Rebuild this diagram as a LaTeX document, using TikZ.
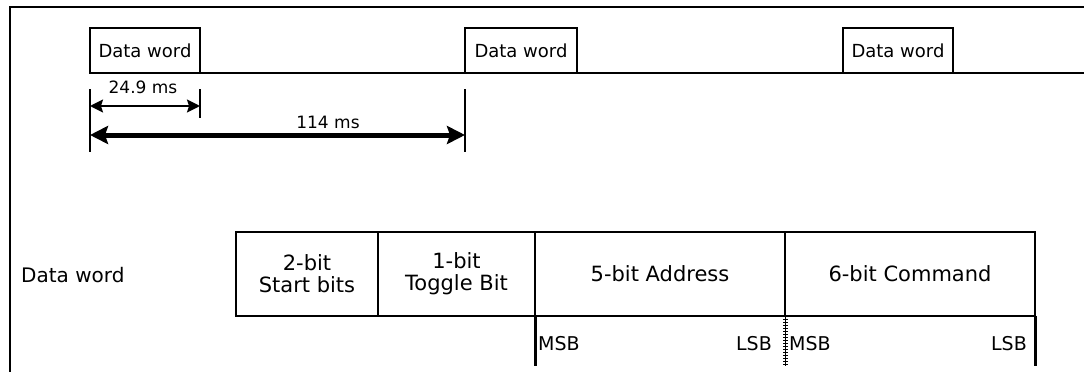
\documentclass[tikz,border=0pt]{standalone}
\usepackage{fontspec}
\setmainfont{DejaVu Sans}
\usepackage{tikz}
\usetikzlibrary{positioning,arrows.meta}
\tikzset{
     arrow/.style={line width=2pt, arrows={Stealth[length=13pt,width=13pt,inset=2pt]-Stealth[length=13pt,width=13pt,inset=2pt]}},
     bigarrow/.style={line width=5pt, arrows={Stealth[length=18pt,width=18pt,inset=3pt]-Stealth[length=18pt,width=18pt,inset=3pt]}},
     pulse/.style={draw, line width=1.5pt, minimum height=45pt, inner sep=0pt, outer sep=0pt, font=\fontsize{18}{20}\selectfont},
     field/.style={draw, line width=1.5pt, minimum height=84pt, inner sep=0pt, outer sep=0pt, align=center, font=\fontsize{21}{22}\selectfont},
     dimlabel/.style={inner sep=0pt, font=\fontsize{17}{18}\selectfont},
     bitlabel/.style={inner sep=0pt, font=\fontsize{19}{20}\selectfont},
     marker/.style={line width=1.5pt}
     }

\begin{document}
\begin{tikzpicture}[x=1pt,y=-1pt]
                    \useasboundingbox (0,0) rectangle (1084,372);
                    % Frame
                    \draw[line width=2.5pt] (10,372) -- (10,7) -- (1084,7);
                    % Place nodes
                    \node[pulse, minimum width=110pt] (w1) at (145,50.5) {Data word};
                    \node[pulse, minimum width=112pt, right=265pt of w1] (w2) {Data word};
                    \node[pulse, minimum width=110pt, right=266pt of w2] (w3) {Data word};
                    \coordinate (lineend) at (1084,73);
                    \draw[line width=1.5pt] (w1.south west) -- (lineend);
                    % Timing marks
                    \coordinate (m1a) at (w1.south west |- 0,89);
                    \coordinate (m1b) at (w1.south west |- 0,152);
                    \coordinate (m2a) at (w1.south east |- 0,89);
                    \coordinate (m2b) at (w1.south east |- 0,118);
                    \coordinate (m3a) at (w2.south west |- 0,89);
                    \coordinate (m3b) at (w2.south west |- 0,152);
                    \draw[marker] (m1a) -- (m1b);
                    \draw[marker] (m2a) -- (m2b);
                    \draw[marker] (m3a) -- (m3b);
                    \coordinate (a1) at (w1.south west |- 0,106);
                    \coordinate (a2) at (w1.south east |- 0,106);
                    \coordinate (b1) at (w1.south west |- 0,135);
                    \coordinate (b2) at (w2.south west |- 0,135);
                    % Draw edges
                    \draw[arrow] (a1) -- (a2);
                    \draw[bigarrow] (b1) -- (b2);
                    \node[dimlabel] (t1) at (143,87) {24.9 ms};
                    \node[dimlabel] (t2) at (328,122) {114 ms};
                    % Data word fields
                    \node[anchor=west, inner sep=0pt, font=\fontsize{20}{22}\selectfont] (dw) at (21,275) {Data word};
                    \node[field, minimum width=142pt] (f1) at (307,274) {2-bit\\Start bits};
                    \node[field, minimum width=157pt, right=0pt of f1] (f2) {1-bit\\Toggle Bit};
                    \node[field, minimum width=250pt, right=0pt of f2] (f3) {5-bit Address};
                    \node[field, minimum width=250pt, right=0pt of f3] (f4) {6-bit Command};
                    % MSB / LSB marks
                    \coordinate (e1) at (f3.south west |- 0,366);
                    \coordinate (e2) at (f4.south west |- 0,366);
                    \coordinate (e3) at (f4.south east |- 0,366);
                    \draw[line width=3pt] (f3.south west) -- (e1);
                    \draw[line width=1pt] (f4.south west) -- (e2);
                    \draw[line width=5pt, dash pattern=on 1pt off 2pt] (f4.south west) -- (e2);
                    \draw[line width=3pt] (f4.south east) -- (e3);
                    \node[bitlabel, anchor=base west] (msb1) at (538,350) {MSB};
                    \node[bitlabel, anchor=base east] (lsb1) at (772,350) {LSB};
                    \node[bitlabel, anchor=base west] (msb2) at (789,350) {MSB};
                    \node[bitlabel, anchor=base east] (lsb2) at (1027,350) {LSB};
                \end{tikzpicture}
\end{document}
